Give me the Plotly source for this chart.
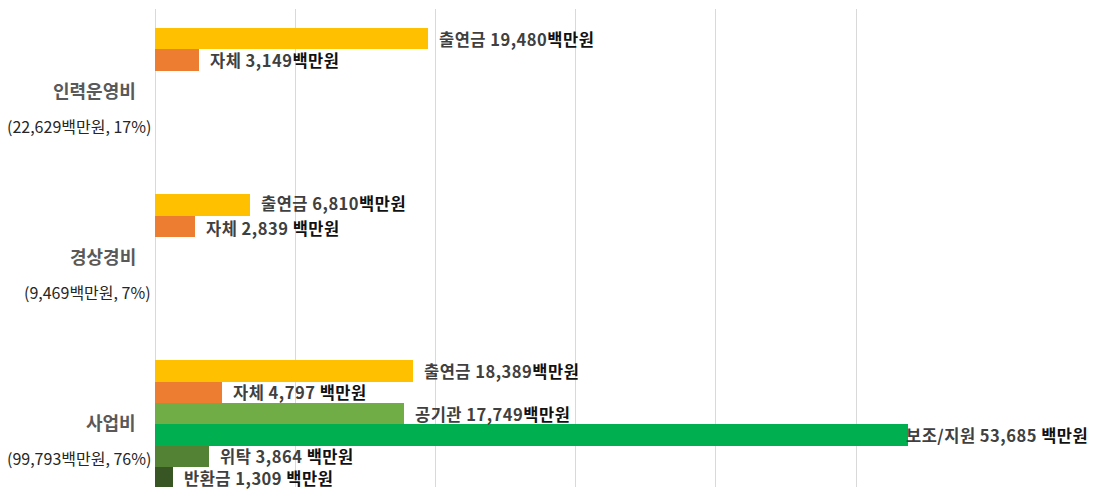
import plotly.graph_objects as go

# ---- data ----
categories = ["인력운영비", "경상경비", "사업비"]
category_totals = [22629, 9469, 99793]      # 백만원
category_shares = [17, 7, 76]               # %

series_names = ["출연금", "자체", "공기관", "보조/지원", "위탁", "반환금"]
series_values = {
    "출연금":   [19480, 6810, 18389],
    "자체":     [3149, 2839, 4797],
    "공기관":   [None, None, 17749],
    "보조/지원": [None, None, 53685],
    "위탁":     [None, None, 3864],
    "반환금":   [None, None, 1309],
}
# whether the label has a space before the unit "백만원"
unit_space = {
    "출연금":   [False, False, False],
    "자체":     [False, True, True],
    "공기관":   [False, False, False],
    "보조/지원": [False, False, True],
    "위탁":     [False, False, True],
    "반환금":   [False, False, True],
}

# ---- styles ----
colors = {
    "출연금": "#FFC000",
    "자체": "#ED7D31",
    "공기관": "#70AD47",
    "보조/지원": "#00B050",
    "위탁": "#548235",
    "반환금": "#375623",
}
FONT = "Noto Sans CJK KR"
CAT_STEP = 7.8     # slots per category band
GAP_HALF = 0.9     # half gap before first bar

def ypos(ci, si):
    return ci * CAT_STEP + GAP_HALF + si + 0.5

# small vertical nudges for tightly stacked labels (category 경상경비)
label_yshift = {("출연금", 1): 1.5, ("자체", 1): -1.5}

fig = go.Figure()
annotations = []
for si, name in enumerate(series_names):
    xs, ys = [], []
    for ci, v in enumerate(series_values[name]):
        if v is None:
            continue
        xs.append(v)
        ys.append(ypos(ci, si))
        unit = (" " if unit_space[name][ci] else "") + "백만원"
        shift = -3 if name == "보조/지원" else 10
        annotations.append(dict(
            x=v, y=ypos(ci, si), xref="x", yref="y",
            text=(f"<span style='letter-spacing:0.5px'><b>{name} {v:,}</b>"
                  f"<b><span style='color:#111111'>{unit}</span></b></span>"),
            showarrow=False, xanchor="left", yanchor="middle", xshift=shift,
            yshift=label_yshift.get((name, ci), 0),
            borderpad=0,
            font=dict(family=FONT, size=16.5, color="#404040"),
        ))
    fig.add_trace(go.Bar(
        x=xs, y=ys, orientation="h", width=1.0, name=name,
        marker=dict(color=colors[name], line=dict(width=0)),
        hoverinfo="skip", showlegend=False,
    ))

for ci, cat in enumerate(categories):
    annotations.append(dict(
        x=0, xref="paper", y=ci * CAT_STEP + 3.8, yref="y",
        text=f"<b>{cat}</b>", showarrow=False, xanchor="right", yanchor="middle",
        xshift=-18, borderpad=0, font=dict(family=FONT, size=18, color="#595959"),
    ))
    annotations.append(dict(
        x=0, xref="paper", y=ci * CAT_STEP + 5.5, yref="y",
        text=f"({category_totals[ci]:,}백만원, {category_shares[ci]}%)",
        showarrow=False, xanchor="right", yanchor="middle",
        xshift=-3, borderpad=0, font=dict(family=FONT, size=16, color="#262626"),
    ))

fig.update_layout(
    width=1101, height=496,
    margin=dict(l=155, r=104, t=9, b=9),
    paper_bgcolor="white", plot_bgcolor="white",
    bargap=0, barmode="overlay",
    annotations=annotations,
    xaxis=dict(range=[0, 60050], dtick=10000, tick0=0, showticklabels=False,
               showgrid=True, gridcolor="#D9D9D9", gridwidth=1,
               zeroline=True, zerolinecolor="#D9D9D9", zerolinewidth=1,
               showline=False, ticks=""),
    yaxis=dict(range=[22.44, 0], showticklabels=False, showgrid=False,
               zeroline=False, showline=False, ticks=""),
)

fig.write_html(
    "out.html",
    config={"displayModeBar": False},
    post_script="document.body.style.margin='0';document.body.style.padding='0';",
)
